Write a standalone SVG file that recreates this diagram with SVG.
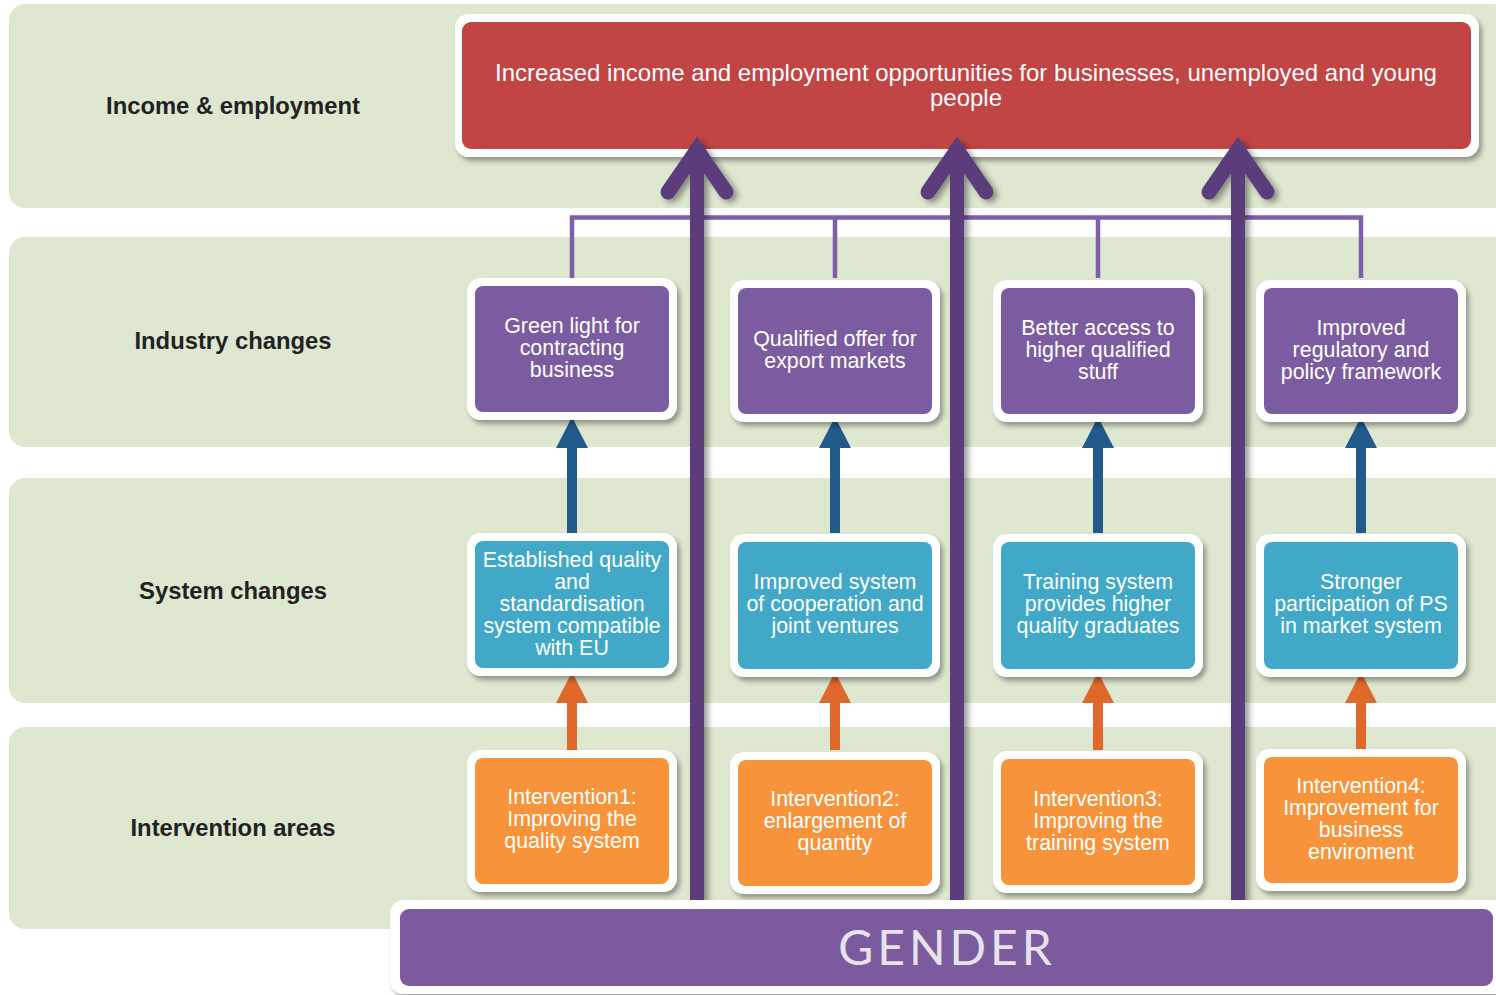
<svg xmlns="http://www.w3.org/2000/svg" width="1496" height="995" viewBox="0 0 1496 995">
<defs>
<filter id="sh" x="-10%" y="-10%" width="130%" height="130%">
<feDropShadow dx="3" dy="4" stdDeviation="2.5" flood-color="#000" flood-opacity="0.35"/>
</filter>
<filter id="ash" x="-50%" y="-10%" width="200%" height="120%">
<feDropShadow dx="4" dy="3" stdDeviation="3" flood-color="#000" flood-opacity="0.4"/>
</filter>
<style>
.band{fill:#DEE7D0}
.lbl{font-family:"Liberation Sans",Arial,sans-serif;font-weight:bold;font-size:23.8px;fill:#222;text-anchor:middle}
.frame{fill:#fff;filter:url(#sh)}
.t{font-family:"Liberation Sans",Arial,sans-serif;font-size:21.4px;fill:#fff;text-anchor:middle}
.ind{fill:#7B5CA0}
.sys{fill:#41A9C7}
.int{fill:#F7943B}
.conn{stroke:#7E5FA8;stroke-width:4.5;fill:none}
.blue{fill:#235A8C}
.orange{fill:#E0682A}
.shaft{stroke:#5B3C7C;stroke-width:14;fill:none}
.head{stroke:#5B3C7C;stroke-width:15;fill:none;stroke-linecap:round;stroke-linejoin:miter}
</style>
</defs>

<g id="bands">
<rect class="band" x="9" y="4" width="1500" height="204" rx="16"/>
<rect class="band" x="9" y="237" width="1500" height="210" rx="16"/>
<rect class="band" x="9" y="478" width="1500" height="225" rx="16"/>
<rect class="band" x="9" y="727" width="1500" height="202" rx="16"/>
<text class="lbl" x="233" y="114">Income &amp; employment</text>
<text class="lbl" x="233" y="349">Industry changes</text>
<text class="lbl" x="233" y="599">System changes</text>
<text class="lbl" x="233" y="836">Intervention areas</text>
</g>

<g id="outcome">
<rect class="frame" x="455" y="14" width="1024" height="143" rx="14"/>
<rect x="462" y="22" width="1009" height="127" rx="9" fill="#C04544"/>
<text class="t" style="font-size:24px" x="966" y="80.5">Increased income and employment opportunities for businesses, unemployed and young</text>
<text class="t" style="font-size:24px" x="966" y="105.5">people</text>
</g>

<g id="connectors">
<path class="conn" d="M572,278 V217.5 H1361 V278 M835,217.5 V278 M1098,217.5 V278"/>
<g id="blue-arrows">
<path class="blue" d="M567,533 V448 H556 L572,417 L588,448 H577 V533 Z"/>
<path class="blue" d="M830,533 V448 H819 L835,417 L851,448 H840 V533 Z"/>
<path class="blue" d="M1093,533 V448 H1082 L1098,417 L1114,448 H1103 V533 Z"/>
<path class="blue" d="M1356,533 V448 H1345 L1361,417 L1377,448 H1366 V533 Z"/>
</g>
<g id="orange-arrows">
<path class="orange" d="M567,750 V703 H556 L572,672 L588,703 H577 V750 Z"/>
<path class="orange" d="M830,750 V703 H819 L835,672 L851,703 H840 V750 Z"/>
<path class="orange" d="M1093,750 V703 H1082 L1098,672 L1114,703 H1103 V750 Z"/>
<path class="orange" d="M1356,750 V703 H1345 L1361,672 L1377,703 H1366 V750 Z"/>
</g>
</g>

<g id="industry1">
<rect class="frame" x="467" y="278" width="210" height="142" rx="14"/>
<rect class="ind" x="475" y="286" width="194" height="126" rx="8"/>
<text class="t" x="572" y="333">Green light for</text>
<text class="t" x="572" y="355">contracting</text>
<text class="t" x="572" y="377">business</text>
</g>
<g id="industry2">
<rect class="frame" x="730" y="280" width="210" height="142" rx="14"/>
<rect class="ind" x="738" y="288" width="194" height="126" rx="8"/>
<text class="t" x="835" y="346">Qualified offer for</text>
<text class="t" x="835" y="368">export markets</text>
</g>
<g id="industry3">
<rect class="frame" x="993" y="280" width="210" height="142" rx="14"/>
<rect class="ind" x="1001" y="288" width="194" height="126" rx="8"/>
<text class="t" x="1098" y="335">Better access to</text>
<text class="t" x="1098" y="357">higher qualified</text>
<text class="t" x="1098" y="379">stuff</text>
</g>
<g id="industry4">
<rect class="frame" x="1256" y="280" width="210" height="142" rx="14"/>
<rect class="ind" x="1264" y="288" width="194" height="126" rx="8"/>
<text class="t" x="1361" y="335">Improved</text>
<text class="t" x="1361" y="357">regulatory and</text>
<text class="t" x="1361" y="379">policy framework</text>
</g>

<g id="system1">
<rect class="frame" x="467" y="533" width="210" height="143" rx="14"/>
<rect class="sys" x="475" y="541" width="194" height="127" rx="8"/>
<text class="t" x="572" y="567">Established quality</text>
<text class="t" x="572" y="589">and</text>
<text class="t" x="572" y="611">standardisation</text>
<text class="t" x="572" y="633">system compatible</text>
<text class="t" x="572" y="655">with EU</text>
</g>
<g id="system2">
<rect class="frame" x="730" y="534" width="210" height="143" rx="14"/>
<rect class="sys" x="738" y="542" width="194" height="127" rx="8"/>
<text class="t" x="835" y="589">Improved system</text>
<text class="t" x="835" y="611">of cooperation and</text>
<text class="t" x="835" y="633">joint ventures</text>
</g>
<g id="system3">
<rect class="frame" x="993" y="534" width="210" height="143" rx="14"/>
<rect class="sys" x="1001" y="542" width="194" height="127" rx="8"/>
<text class="t" x="1098" y="589">Training system</text>
<text class="t" x="1098" y="611">provides higher</text>
<text class="t" x="1098" y="633">quality graduates</text>
</g>
<g id="system4">
<rect class="frame" x="1256" y="534" width="210" height="143" rx="14"/>
<rect class="sys" x="1264" y="542" width="194" height="127" rx="8"/>
<text class="t" x="1361" y="589">Stronger</text>
<text class="t" x="1361" y="611">participation of PS</text>
<text class="t" x="1361" y="633">in market system</text>
</g>

<g id="intervention1">
<rect class="frame" x="467" y="750" width="210" height="142" rx="14"/>
<rect class="int" x="475" y="758" width="194" height="126" rx="8"/>
<text class="t" x="572" y="804">Intervention1:</text>
<text class="t" x="572" y="826">Improving the</text>
<text class="t" x="572" y="848">quality system</text>
</g>
<g id="intervention2">
<rect class="frame" x="730" y="752" width="210" height="142" rx="14"/>
<rect class="int" x="738" y="760" width="194" height="126" rx="8"/>
<text class="t" x="835" y="806">Intervention2:</text>
<text class="t" x="835" y="828">enlargement of</text>
<text class="t" x="835" y="850">quantity</text>
</g>
<g id="intervention3">
<rect class="frame" x="993" y="751" width="210" height="142" rx="14"/>
<rect class="int" x="1001" y="759" width="194" height="126" rx="8"/>
<text class="t" x="1098" y="806">Intervention3:</text>
<text class="t" x="1098" y="828">Improving the</text>
<text class="t" x="1098" y="850">training system</text>
</g>
<g id="intervention4">
<rect class="frame" x="1256" y="749" width="210" height="142" rx="14"/>
<rect class="int" x="1264" y="757" width="194" height="126" rx="8"/>
<text class="t" x="1361" y="793">Intervention4:</text>
<text class="t" x="1361" y="815">Improvement for</text>
<text class="t" x="1361" y="837">business</text>
<text class="t" x="1361" y="859">enviroment</text>
</g>

<g id="gender-arrows" filter="url(#ash)">
<line class="shaft" x1="697" y1="145" x2="697" y2="906"/>
<polyline class="head" points="668,192 697,150 726,192"/>
<line class="shaft" x1="957" y1="145" x2="957" y2="906"/>
<polyline class="head" points="928,192 957,150 986,192"/>
<line class="shaft" x1="1238" y1="145" x2="1238" y2="906"/>
<polyline class="head" points="1209,192 1238,150 1267,192"/>
</g>

<g id="gender">
<rect class="frame" x="390" y="900" width="1120" height="94" rx="14"/>
<rect x="400" y="909" width="1093" height="77" rx="9" fill="#7B5B9D"/>
<text x="947" y="965" font-family="Lato,'Open Sans',sans-serif" font-size="48" letter-spacing="4" fill="#E6E3EA" text-anchor="middle">GENDER</text>
</g>
</svg>
